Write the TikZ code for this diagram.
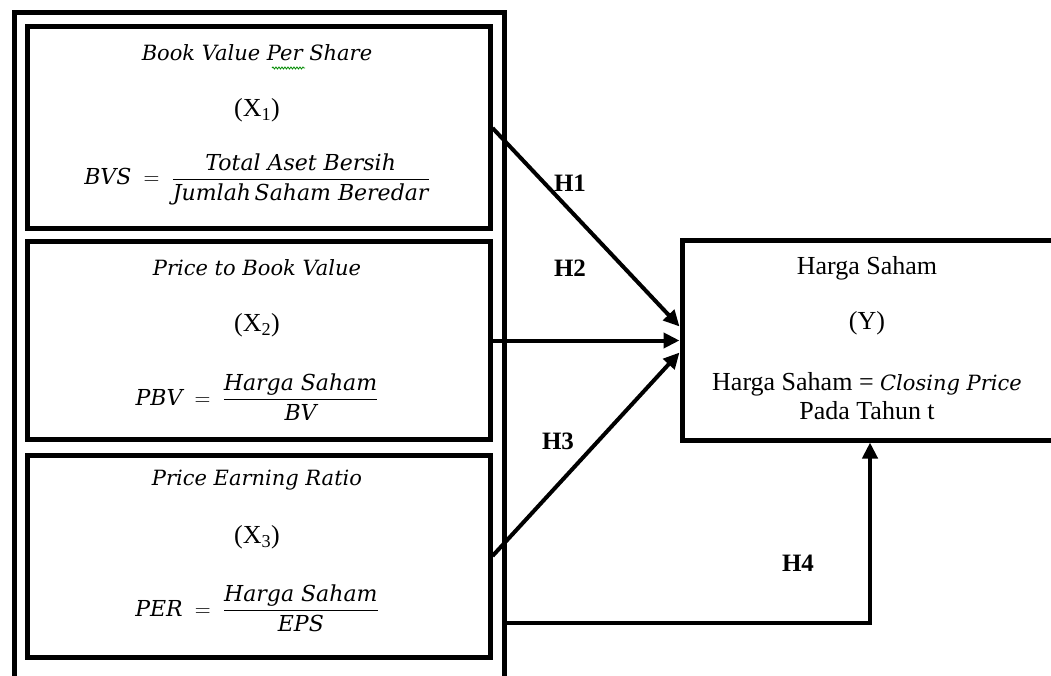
\documentclass[tikz,border=0pt]{standalone}
\usepackage{fix-cm}
\usepackage{amsmath}
\usepackage{fontspec}
\newfontfamily\tnr{Liberation Serif}
\newfontfamily\dvs{DejaVu Serif}
\usetikzlibrary{arrows.meta,calc,decorations.pathmorphing}
\newcommand{\ct}[1]{\text{\dvs\itshape #1}}
\begin{document}
\begin{tikzpicture}[x=1pt,y=-1pt,
  box/.style={draw,line width=5pt,minimum width=463pt,inner sep=0pt},
  arr/.style={line width=4pt,-{Triangle[length=16pt,width=15pt]}},
  ttl/.style={font=\dvs\itshape\fontsize{21}{25}\selectfont},
  tn/.style={font=\tnr\fontsize{26}{30}\selectfont},
  hl/.style={font=\tnr\bfseries\fontsize{25}{30}\selectfont},
  frm/.style={font=\fontsize{22}{26}\selectfont}]
\useasboundingbox (0,0) rectangle (1051,676);
\clip (0,0) rectangle (1051,676);
\fill[white] (0,0) rectangle (1051,676);
% boxes
\node[draw,line width=5pt,minimum width=489.5pt,minimum height=700pt,inner sep=0pt] (outer) at (259.25,362.5) {};
\node[box,minimum height=202pt] (b1) at (258.5,128) {};
\node[box,minimum height=197pt] (b2) at (258.5,340.5) {};
\node[box,minimum height=202pt] (b3) at (258.5,556) {};
\node[draw,line width=5pt,minimum width=374pt,minimum height=199pt,inner sep=0pt] (Y) at (869,340.5) {};
% box 1 text
\node[ttl] (t1) at (257,53) {Book Value Per Share};
\draw[green!55!black,line width=0.8pt,decorate,decoration={snake,amplitude=1pt,segment length=3pt}] (272,68) -- (305,68);
\node[tn] (x1) at (257,110) {(X\textsubscript{1})};
\node[frm] (f1) at (257,179) {$\ct{BVS} \;=\; \dfrac{\ct{Total Aset Bersih}}{\ct{Jumlah\,Saham Beredar}}$};
% box 2 text
\node[ttl] (t2) at (257,268) {Price to Book Value};
\node[tn] (x2) at (257,325) {(X\textsubscript{2})};
\node[frm] (f2) at (257,397) {$\ct{PBV} \;=\; \dfrac{\ct{Harga Saham}}{\ct{BV}}$};
% box 3 text
\node[ttl] (t3) at (257,480) {Price Earning Ratio};
\node[tn] (x3) at (257,537) {(X\textsubscript{3})};
\node[frm] (f3) at (257,608) {$\ct{PER} \;=\; \dfrac{\ct{Harga Saham}}{\ct{EPS}}$};
% Y text
\node[tn] (y1) at (867,268) {Harga Saham};
\node[tn] (y2) at (867,323) {(Y)};
\node[tn,align=center] (y3) at (867,396) {Harga Saham = {\dvs\itshape\fontsize{21}{30}\selectfont Closing Price}\\[-1pt]Pada Tahun t};
% labels
\node[hl] (h1) at (570,183) {H1};
\node[hl] (h2) at (570,268) {H2};
\node[hl] (h3) at (558,441) {H3};
\node[hl] (h4) at (798,563) {H4};
% arrows
\draw[arr] (b1.east) -- ($(Y.west)+(0,-14)$);
\draw[arr] (b2.east) -- (b2.east -| Y.west);
\draw[arr] (b3.east) -- ($(Y.west)+(0,12)$);
\coordinate (c4) at (870,623);
\draw[arr] (outer.east |- c4) -- (c4) -- (c4 |- Y.south);
\end{tikzpicture}
\end{document}
